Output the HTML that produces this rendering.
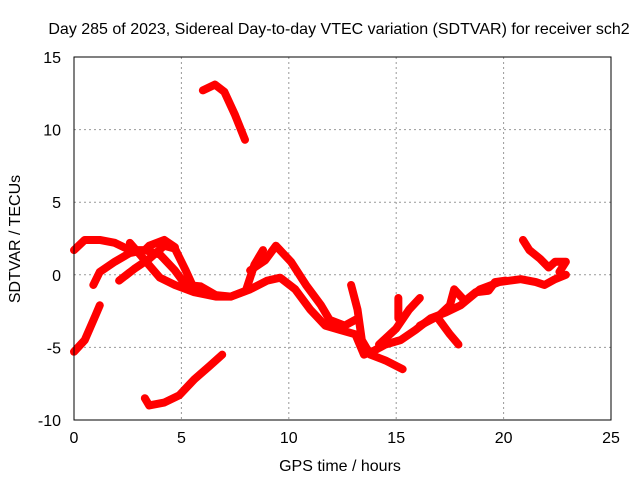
<!DOCTYPE html>
<html><head><meta charset="utf-8"><style>
body{margin:0;background:#fff;}
svg text{font-family:"Liberation Sans",sans-serif;font-size:16px;fill:#000;}
</style></head><body>
<svg width="640" height="480" id="chart">
<rect width="640" height="480" fill="#fff"/>
<text x="339" y="34" text-anchor="middle">Day 285 of 2023, Sidereal Day-to-day VTEC variation (SDTVAR) for receiver sch2</text>
<text x="340" y="471" text-anchor="middle">GPS time / hours</text>
<text transform="translate(20,239) rotate(-90)" text-anchor="middle">SDTVAR / TECUs</text>
<g id="grid"></g>
<g id="series"></g>
<rect x="74" y="57" width="537" height="363" fill="none" stroke="#000" stroke-width="1"/>
<g id="ticks"></g>
</svg>
<script>
const xTicks=[0,5,10,15,20,25];
const yTicks=[-10,-5,0,5,10,15];
const seriesA=[[6.0,12.7],[6.56,13.1],[7.0,12.6],[7.5,11.0],[7.96,9.3]];
const seriesB=[[0,-5.3],[0.5,-4.5],[1.0,-2.8],[1.2,-2.1]];
const seriesC=[[3.3,-8.5],[3.5,-9.0],[4.2,-8.8],[4.9,-8.3],[5.6,-7.2],[6.3,-6.3],[6.9,-5.5]];
const seriesD=[[0,1.7],[0.5,2.4],[1.2,2.4],[1.9,2.2],[2.6,1.7],[3.3,1.7],[3.5,2.0],[4.2,2.4],[4.7,1.9]];
const seriesE=[[0.9,-0.7],[1.2,0.2],[1.9,0.9],[2.6,1.5],[3.3,1.7],[4.0,1.4],[4.7,0.3],[5.2,-0.7],[5.9,-0.8],[6.6,-1.4],[7.3,-1.5],[8.2,-1.0],[9.0,-0.4],[9.6,-0.2],[10.3,-1.0],[11.0,-2.4],[11.7,-3.5],[12.4,-3.8],[13.1,-4.1],[13.5,-5.5],[14.0,-5.2],[14.5,-4.8],[15.2,-4.5],[15.9,-3.8],[16.6,-3.0],[17.3,-2.6],[18.0,-2.1],[18.9,-1.0],[19.8,-0.5],[20.8,-0.3],[21.5,-0.5],[21.9,-0.7],[22.4,-0.3],[22.9,0]];
const seriesF=[[2.6,2.2],[3.3,1.0],[4.0,-0.2],[4.7,-0.7],[5.6,-1.2],[6.6,-1.5],[7.3,-1.5],[8.0,-1.1],[8.4,0.7],[8.8,1.7]];
const seriesG=[[2.1,-0.4],[2.8,0.4],[3.5,1.1],[4.2,2.0],[4.7,1.8],[5.2,0.3],[5.6,-1.0]];
const seriesH=[[8.2,0.3],[8.9,1.0],[9.4,2.0],[10.1,0.9],[10.8,-0.7],[11.5,-2.1],[11.9,-3.1],[12.6,-3.5],[13.1,-3.1]];
const seriesI=[[14.2,-4.8],[15.0,-3.7],[15.6,-2.4],[16.1,-1.6]];
const seriesI2=[[16.1,-3.5],[17.0,-2.8],[17.5,-2.1],[17.7,-1.0],[18.2,-1.8],[18.7,-1.2],[19.3,-1.1],[19.6,-0.5],[20.1,-0.4]];
const seriesJ=[[17.0,-3.1],[17.5,-4.1],[17.9,-4.8]];
const seriesK=[[20.9,2.4],[21.2,1.7],[21.7,1.1],[22.1,0.5],[22.4,0.9],[22.9,0.9],[22.6,0.2]];
const seriesL=[[12.9,-0.7],[13.2,-2.4],[13.4,-4.5],[13.8,-5.5],[14.5,-5.9],[14.9,-6.2],[15.3,-6.5]];
const seriesM=[[15.1,-1.6],[15.1,-3.0]];
const allSeries=[seriesA,seriesB,seriesC,seriesD,seriesE,seriesF,seriesG,seriesH,seriesI,seriesI2,seriesJ,seriesK,seriesL,seriesM];
const NS='http://www.w3.org/2000/svg';
const X0=74,X1=611,Y0=420,Y1=57;
function xs(v){return X0+(v-0)/25*(X1-X0);}
function ys(v){return Y0-(v+10)/25*(Y0-Y1);}
const grid=document.getElementById('grid'),ticks=document.getElementById('ticks'),ser=document.getElementById('series');
xTicks.forEach(t=>{
 const x=xs(t);
 if(t>0&&t<25){const l=document.createElementNS(NS,'line');
 l.setAttribute('x1',x);l.setAttribute('x2',x);l.setAttribute('y1',Y1);l.setAttribute('y2',Y0);
 l.setAttribute('stroke','#999');l.setAttribute('stroke-dasharray','2,3');
 
 
 grid.appendChild(l);}
 const tx=document.createElementNS(NS,'text');
 tx.setAttribute('x',x);tx.setAttribute('y',443);tx.setAttribute('text-anchor','middle');tx.textContent=t;
 
 
 ticks.appendChild(tx);
});
yTicks.forEach(t=>{
 const y=ys(t);
 if(t>-10&&t<15){const l=document.createElementNS(NS,'line');
 l.setAttribute('x1',X0);l.setAttribute('x2',X1);l.setAttribute('y1',y);l.setAttribute('y2',y);
 l.setAttribute('stroke','#999');l.setAttribute('stroke-dasharray','2,3');
 
 
 grid.appendChild(l);}
 const tx=document.createElementNS(NS,'text');
 tx.setAttribute('x',61);tx.setAttribute('y',y+6);tx.setAttribute('text-anchor','end');tx.textContent=t;
 
 
 ticks.appendChild(tx);
});
allSeries.forEach((s,i)=>{
 const p=document.createElementNS(NS,'polyline');
 p.setAttribute('points',s.map(d=>xs(d[0])+','+ys(d[1])).join(' '));
 p.setAttribute('fill','none');p.setAttribute('stroke','#f00');p.setAttribute('stroke-width','8');
 p.setAttribute('stroke-linejoin','round');p.setAttribute('stroke-linecap','round');
 
 
 ser.appendChild(p);
});
</script>
</body></html>
